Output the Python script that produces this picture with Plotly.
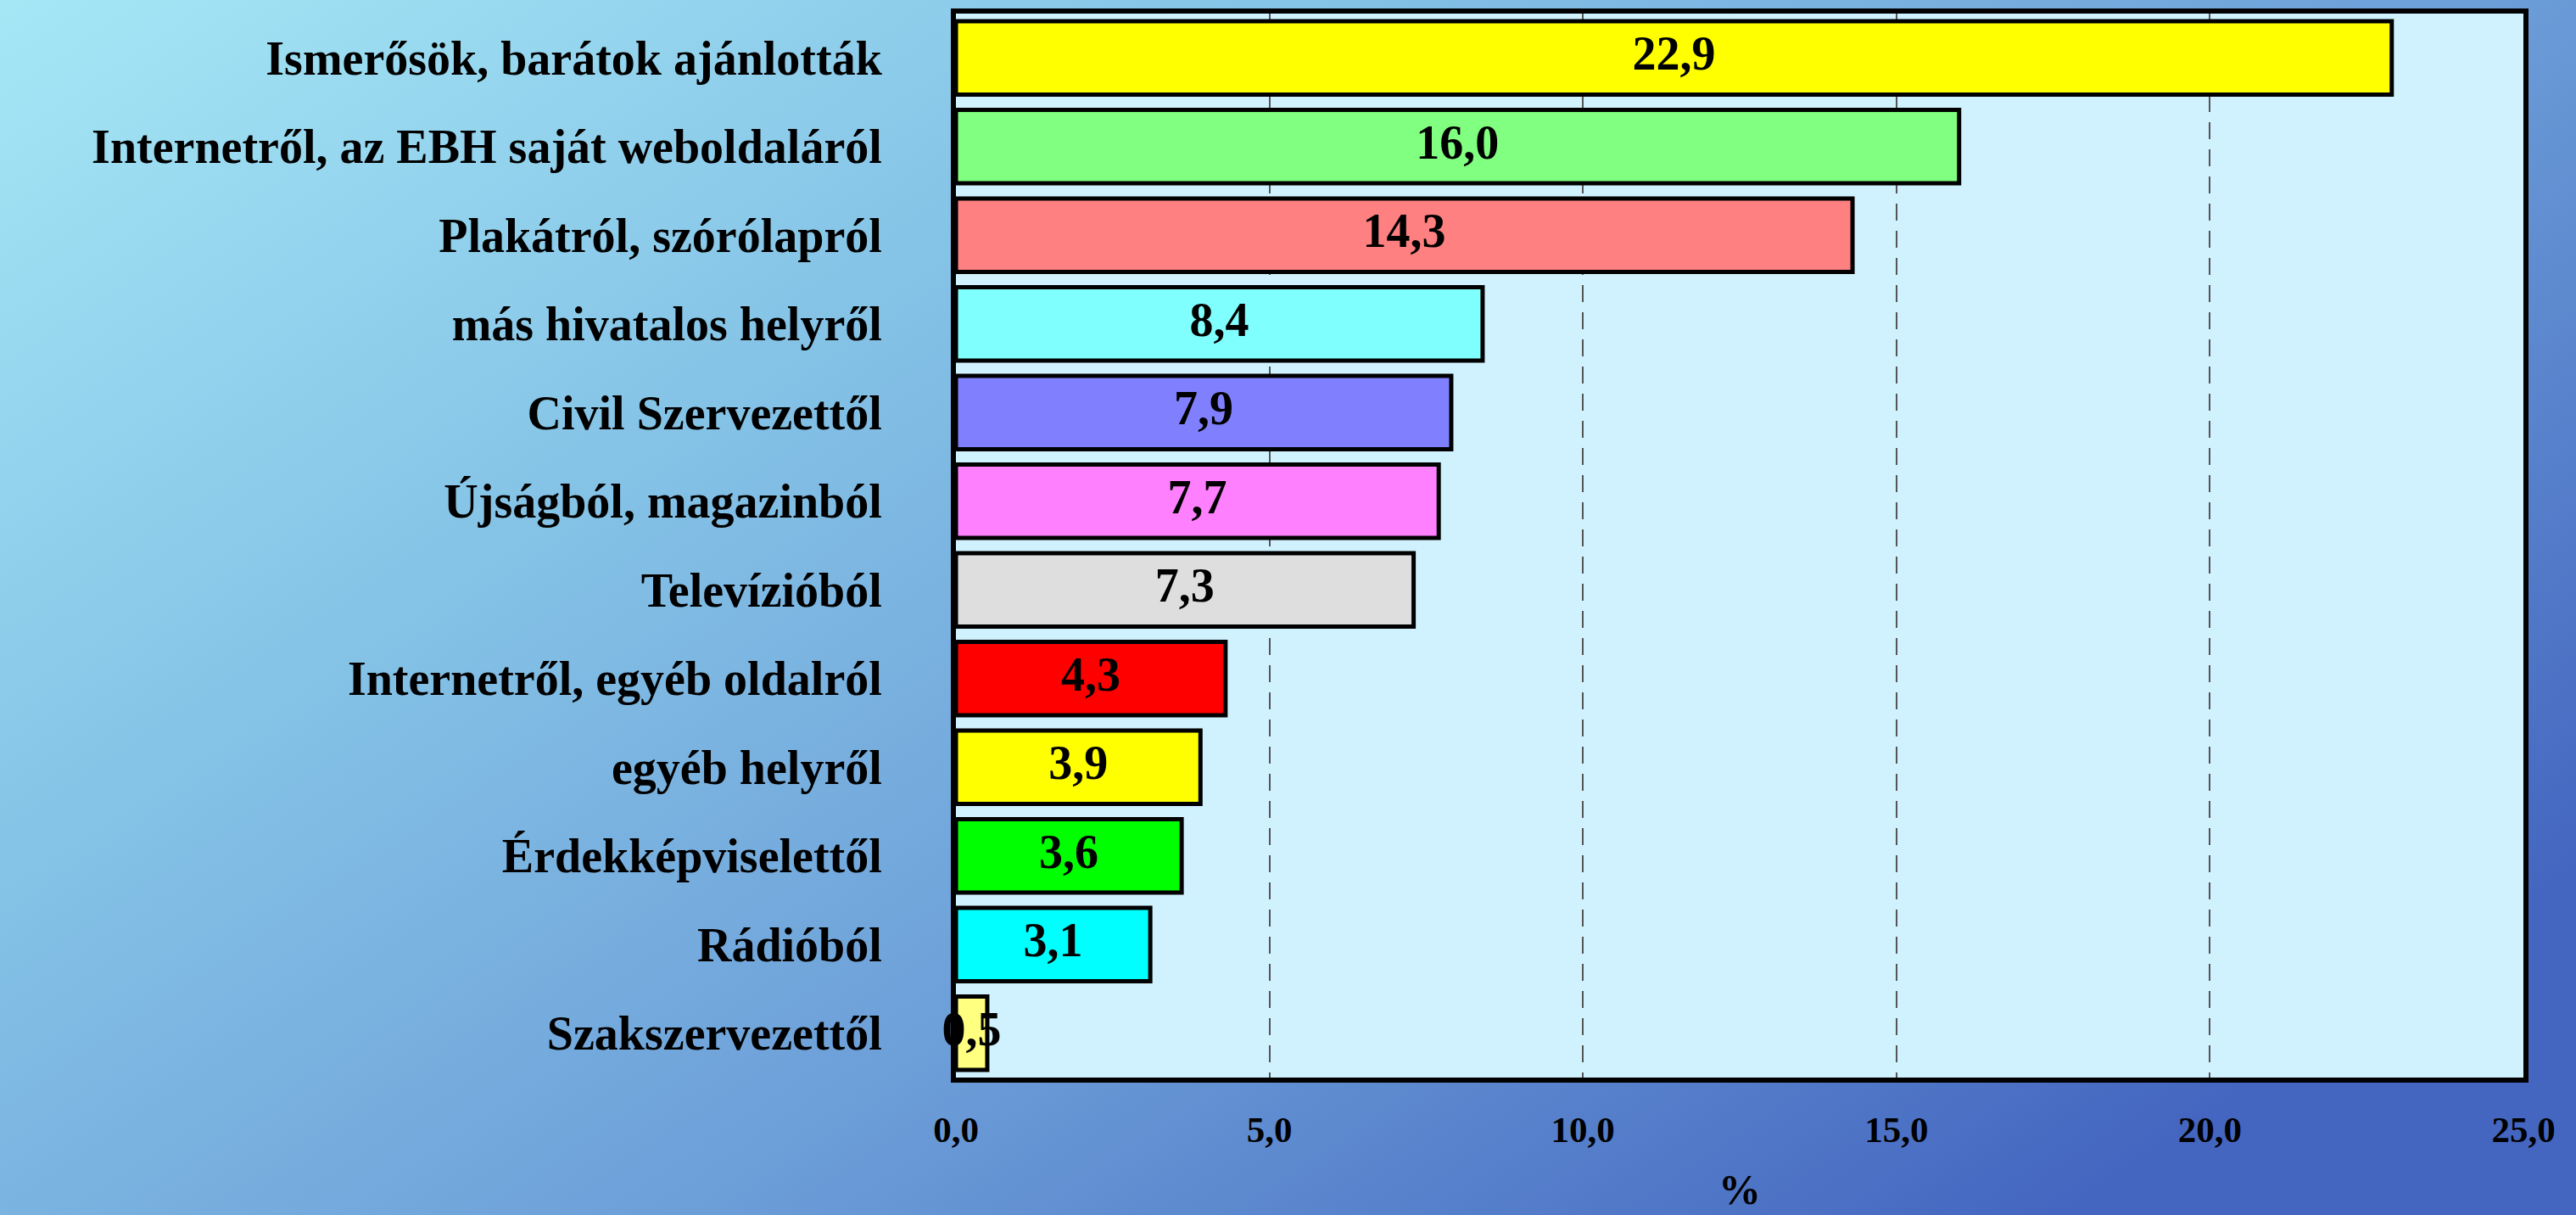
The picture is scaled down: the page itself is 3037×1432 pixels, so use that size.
import base64
import plotly.graph_objects as go

# categories (top to bottom) and percentages
categories = [
    "Ismerősök, barátok ajánlották",
    "Internetről, az EBH saját weboldaláról",
    "Plakátról, szórólapról",
    "más hivatalos helyről",
    "Civil Szervezettől",
    "Újságból, magazinból",
    "Televízióból",
    "Internetről, egyéb oldalról",
    "egyéb helyről",
    "Érdekképviselettől",
    "Rádióból",
    "Szakszervezettől",
]
values = [22.9, 16.0, 14.3, 8.4, 7.9, 7.7, 7.3, 4.3, 3.9, 3.6, 3.1, 0.5]
bar_colors = ["#FFFF00", "#80FF80", "#FF8080", "#80FFFF", "#8080FF", "#FF80FF",
              "#DEDEDE", "#FF0000", "#FFFF00", "#00FF00", "#00FFFF", "#FFFF80"]
x_ticks = [0, 5, 10, 15, 20, 25]

FONT = "Liberation Serif, Times New Roman, serif"
W, H = 3037, 1432
ML, MR, MT, MB = 1127, 62, 10, 160
pw, ph = W - ML - MR, H - MT - MB

# gradient backdrop as an inline svg image
svg = f"""<svg xmlns='http://www.w3.org/2000/svg' width='{W}' height='{H}' viewBox='0 0 {W} {H}' preserveAspectRatio='none'>
<defs><linearGradient id='g' x1='0' y1='0' x2='1' y2='0.7'>
<stop offset='0' stop-color='#A6E8F6'/>
<stop offset='0.35' stop-color='#84C2E6'/>
<stop offset='0.65' stop-color='#6C9ED8'/>
<stop offset='1' stop-color='#4466C0'/>
</linearGradient></defs>
<rect width='{W}' height='{H}' fill='url(#g)'/></svg>"""
bg_src = "data:image/svg+xml;base64," + base64.b64encode(svg.encode()).decode()

labels = [f"{v:.1f}".replace(".", ",") for v in values]

fig = go.Figure()
fig.add_trace(go.Bar(
    x=values, y=categories, orientation="h",
    marker=dict(color=bar_colors, line=dict(color="black", width=5)),
    hoverinfo="x+y",
))
fig.add_trace(go.Scatter(
    x=[v / 2 for v in values], y=categories, mode="text", text=labels,
    textposition="middle center", cliponaxis=False,
    textfont=dict(family=FONT, size=56, color="black", weight="bold"),
    hoverinfo="skip",
))

fig.update_layout(
    width=W, height=H,
    margin=dict(l=ML, r=MR, t=MT, b=MB),
    paper_bgcolor="rgba(0,0,0,0)",
    plot_bgcolor="#D0F2FF",
    showlegend=False,
    bargap=0.17,
    separators=", ",
    font=dict(family=FONT, color="black", weight="bold"),
    images=[dict(source=bg_src, xref="paper", yref="paper",
                 x=-ML / pw - 0.01, y=1 + MT / ph + 0.01,
                 sizex=W / pw + 0.02, sizey=H / ph + 0.02,
                 sizing="stretch", layer="below",
                 xanchor="left", yanchor="top")],
    # light plot-area fill sits above the backdrop image
    shapes=[dict(type="rect", xref="paper", yref="paper", x0=0, x1=1, y0=0, y1=1,
                 fillcolor="#D0F2FF", line=dict(width=0), layer="below")],
)
fig.update_xaxes(
    range=[0, 25], tickvals=x_ticks, tickformat=".1f",
    showgrid=True, gridcolor="#555555", gridwidth=2, griddash="20px,12px",
    zeroline=False, showline=True, linecolor="black", linewidth=6, mirror=True,
    ticks="", ticklabelstandoff=18,
    tickfont=dict(family=FONT, size=43, weight="bold"),
    title=dict(text="%", standoff=32, font=dict(family=FONT, size=50, weight="bold")),
)
fig.update_yaxes(
    range=[len(categories) - 0.5, -0.5], showgrid=False, zeroline=False,
    showline=True, linecolor="black", linewidth=6, mirror=True,
    ticks="", ticklabelstandoff=70,
    tickfont=dict(family=FONT, size=56, weight="bold"),
)

# drop the page's default body margin so the figure fills the window
fig.write_html("out.html", config={"displayModeBar": False},
               post_script="document.body.style.margin='0';document.body.style.overflow='hidden';")
